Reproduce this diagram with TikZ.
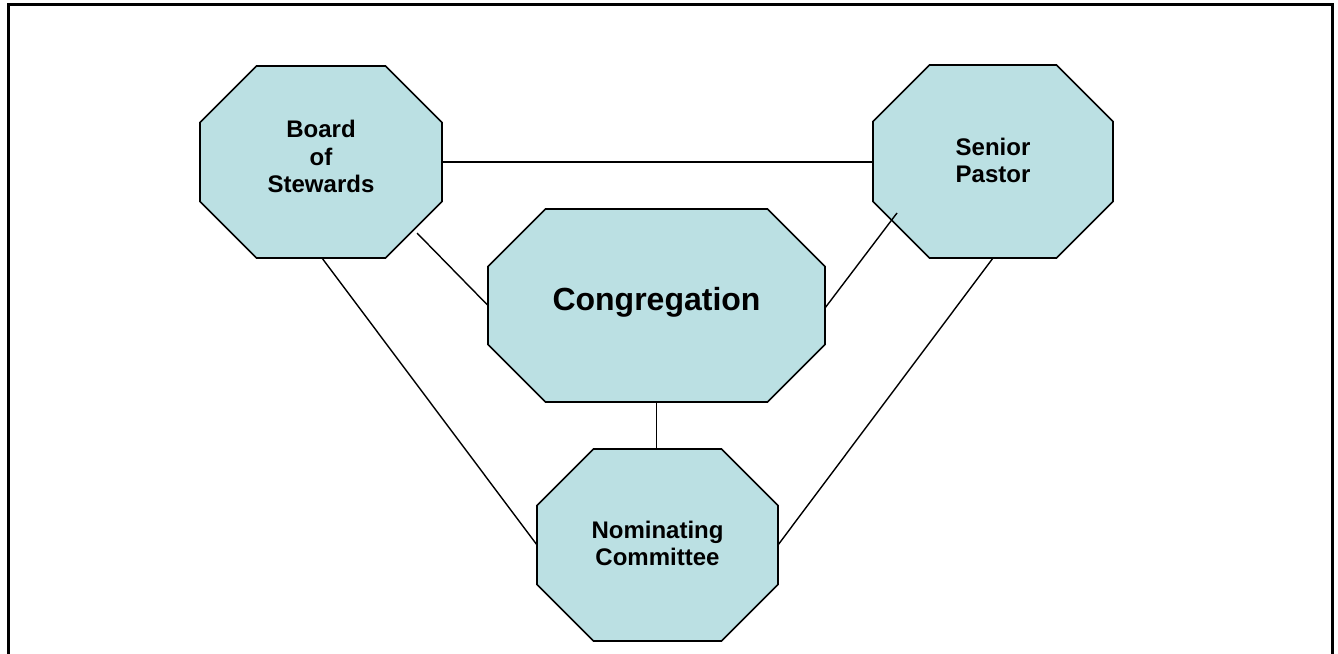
\documentclass[tikz,border=0pt]{standalone}
\usepackage{fontspec}
\setmainfont{Liberation Sans}
\usetikzlibrary{calc,backgrounds}
\definecolor{octfill}{RGB}{187,224,227}
\tikzset{
  octbox/.style={draw=none, inner sep=0pt, outer sep=0pt, align=center,
    font=\bfseries\fontsize{12}{13.6}\selectfont},
  octshape/.style={fill=octfill, draw=black, line width=0.85pt, line join=miter},
  link/.style={draw=black, line width=0.7pt},
  frameline/.style={draw=black, line width=1.5pt}
}
\newcommand\octdraw[2]{%
  \path[octshape] ($(#1.north west)+(#2,0)$) -- ($(#1.north east)+(-#2,0)$)
    -- ($(#1.north east)+(0,#2)$) -- ($(#1.south east)+(0,-#2)$)
    -- ($(#1.south east)+(-#2,0)$) -- ($(#1.south west)+(#2,0)$)
    -- ($(#1.south west)+(0,-#2)$) -- ($(#1.north west)+(0,#2)$) -- cycle;}
\begin{document}
\begin{tikzpicture}[x=0.5pt,y=-0.5pt]
  \useasboundingbox (0,0) rectangle (1338,653);
  \clip (0,0) rectangle (1338,653);
  \draw[frameline] (8,670) -- (8,4) -- (1332,4) -- (1332,670);

  \node[octbox, minimum width=121pt, minimum height=96pt] (bos) at (321,162)
    {Board\\of\\Stewards\rule[-5.5pt]{0pt}{5.5pt}};
  \node[octbox, minimum width=120pt, minimum height=96.5pt] (sp) at (993,161.5)
    {Senior\\Pastor\rule[-1.5pt]{0pt}{1.5pt}};
  \node[octbox, minimum width=168.5pt, minimum height=96.5pt,
        font=\bfseries\fontsize{16}{18}\selectfont] (cong) at (656.5,305.5)
    {Congregation\rule[-6.5pt]{0pt}{6.5pt}};
  \node[octbox, minimum width=120.5pt, minimum height=96pt] (nom) at (657.5,545)
    {Nominating\\Committee\rule[-2pt]{0pt}{2pt}};

  \begin{scope}[on background layer]
    \octdraw{bos}{56.5}
    \octdraw{sp}{56.5}
    \octdraw{cong}{57.5}
    \octdraw{nom}{56.5}
  \end{scope}

  \draw[link] (bos.east) -- (bos.east -| sp.west);
  \draw[link] ($(bos.center)+(96,71)$) -- (cong.west);
  \draw[link] ($(cong.east)+(0,2.5)$) -- ($(sp.center)+(-96,51.5)$);
  \draw[link] ($(bos.south)+(1,0)$) -- (nom.west);
  \draw[link] (sp.south) -- (nom.east);
  \draw[link] (cong.south) -- (cong.south |- nom.north);
\end{tikzpicture}
\end{document}
